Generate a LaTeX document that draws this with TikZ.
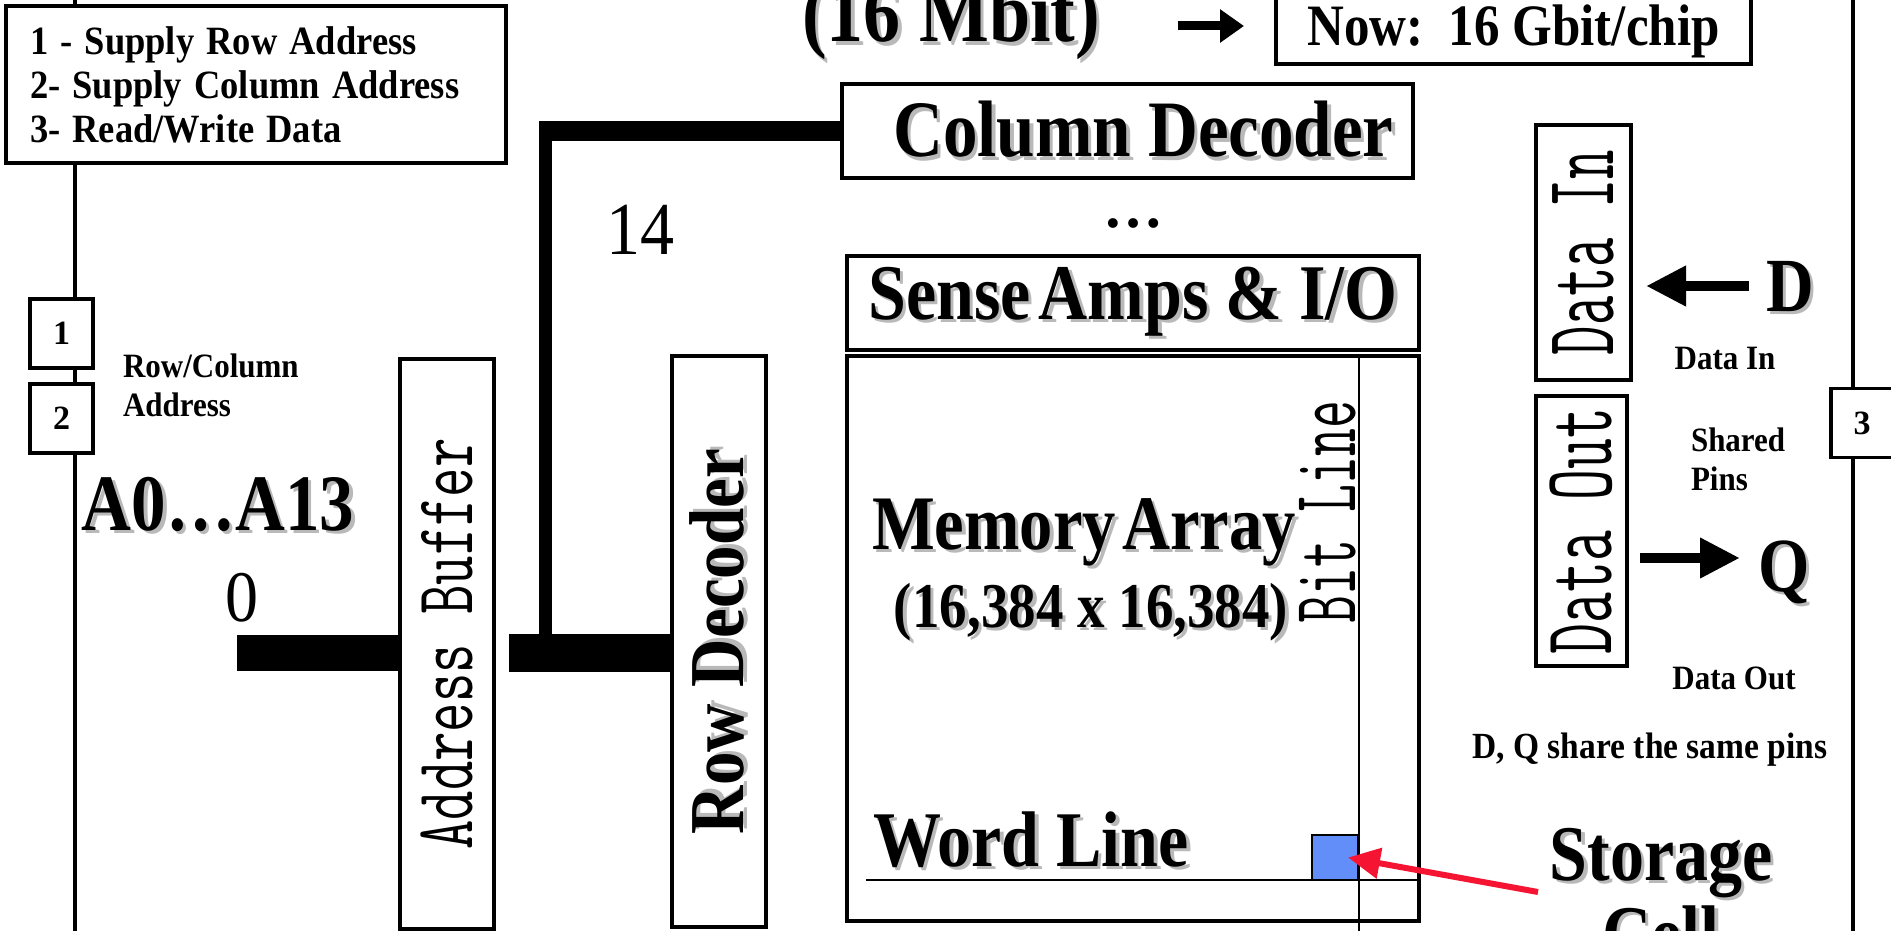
\documentclass[tikz,border=0pt]{standalone}
\usepackage{fontspec}
\usepackage{graphicx}
\setmainfont{Liberation Serif}
\usetikzlibrary{arrows.meta}
\definecolor{cellblue}{RGB}{98,142,250}
\definecolor{arrred}{RGB}{245,20,50}
\definecolor{shadowgray}{RGB}{185,185,185}
\newcommand{\shd}[1]{\scalebox{1}[1.16]{\makebox[0pt][l]{\kern3.5pt\raisebox{-3pt}{\color{shadowgray}#1}}#1}}
\newcommand{\tall}[2]{\scalebox{1}[#1]{#2}}
\newcommand{\vs}[1]{\scalebox{1}[1.1]{#1}}
\begin{document}
\begin{tikzpicture}[x=1pt,y=-1pt,
  every node/.style={inner sep=0pt, outer sep=0pt},
  blk/.style={draw, line width=4.5pt, fill=white},
  pinbox/.style={draw, line width=3.5pt, fill=white, minimum width=63pt, minimum height=69pt, font=\fontsize{34}{40}\selectfont\bfseries},
  big/.style={font=\fontsize{68}{80}\selectfont\bfseries},
  mid/.style={font=\fontsize{31}{39}\selectfont\bfseries},
  mono/.style={font=\fontsize{57}{60}\selectfont\ttfamily},
  bus/.style={line width=36pt},
  thinline/.style={line width=2.5pt},
  bigarrow/.style={line width=10pt, -{Triangle[length=40pt,width=38pt]}},
]
\clip (0,0) rectangle (1891,931);

% vertical bus lines
\coordinate (Ltop) at (75,0); \coordinate (Lbot) at (75,931);
\coordinate (Rtop) at (1853,0); \coordinate (Rbot) at (1853,931);
\draw[line width=4pt] (Ltop) -- (Lbot);
\draw[line width=4pt] (Rtop) -- (Rbot);

% legend
\node[blk, line width=4pt, minimum width=500pt, minimum height=157pt, text width=452pt, align=left,
      font=\fontsize{36.5}{44}\selectfont\bfseries] (legend) at (256,85)
  {\vs{1 - Supply Row Address}\\\vs{2- Supply Column Address}\\\vs{3- Read/Write Data}};

% pins
\node[pinbox] (p1) at (61.5,333.5) {1};
\node[pinbox] (p2) at (61.5,418.5) {2};
\node[pinbox, minimum width=62pt] (p3) at (1862,423) {3};

% left labels
\node[mid, align=left, anchor=west] (rca) at (123,385) {\vs{Row/Column}\\\vs{Address}};
\node[font=\fontsize{69}{80}\selectfont\bfseries] (addr) at (218,506) {\shd{A0…A13}};
\node[font=\fontsize{66}{70}\selectfont] (n0) at (242,598) {\vs{0}};
\node[font=\fontsize{68}{70}\selectfont] (n14) at (640,230) {\vs{14}};

% top
\node[font=\fontsize{74}{80}\selectfont\bfseries, anchor=base] (mbit) at (951,42) {\shd{(16 Mbit)}};
\node[blk, minimum width=475pt, minimum height=66pt, font=\fontsize{51}{56}\selectfont\bfseries] (now) at (1513.5,31) {\tall{1.15}{Now:\ \ 16 Gbit/chip}};
\coordinate (ta1) at (1178,26); \coordinate (ta2) at (1244,26);
\draw[line width=9pt, -{Triangle[length=24pt,width=32pt]}] (ta1) -- (ta2);

% address buffer and row decoder
\node[blk, rotate=90, minimum width=570pt, minimum height=94pt, mono] (ab) at (447,644) {\tall{1.45}{Address Buffer}};
\node[blk, rotate=90, minimum width=571pt, minimum height=94pt, font=\fontsize{67}{80}\selectfont\bfseries] (rd) at (719,641.5) {\shd{Row Decoder}};

% column decoder, sense amps, memory array
\node[blk, minimum width=571pt, minimum height=94pt, font=\fontsize{69}{80}\selectfont\bfseries] (cd) at (1127.5,131) {\hspace*{32pt}\shd{Column Decoder}};
\node[font=\fontsize{60}{60}\selectfont\bfseries] (dots) at (1133,223) {…};
\node[blk, minimum width=572pt, minimum height=94pt, big] (sa) at (1133,303) {\shd{Sense\hspace{0.12em}Amps \& I/O}};
\node[blk, minimum width=572pt, minimum height=565pt] (ma) at (1133,638.5) {};

% buses
\coordinate (b0) at (237,652.5);
\draw[bus] (b0) -- (b0 -| ab.north);
\coordinate (b1) at (509,653);
\draw[line width=38pt] (b1) -- (b1 -| rd.north);
\coordinate (tap) at (545.5,634);
\coordinate (corner) at (545.5,121);
\draw[line width=13pt] (tap) -- (corner);
\coordinate (cw) at (539,131);
\draw[line width=20pt] (cw) -- (cd.west);

% memory array contents
\node[font=\fontsize{66.5}{70}\selectfont\bfseries, anchor=base] (mat) at (1084,549) {\shd{Memory\hspace{0.1em}Array}};
\node[font=\fontsize{55}{60}\selectfont\bfseries, anchor=base] (dim) at (1091,627) {\shd{(16,384 x 16,384)}};
\node[font=\fontsize{54}{60}\selectfont\ttfamily, rotate=90, anchor=south] (blt) at (1356,512) {\tall{1.7}{Bit Line}};
\node[big, anchor=base] (wlt) at (1031,866) {\shd{Word Line}};
\coordinate (blx) at (1359,931);
\draw[thinline] (ma.north -| blx) -- (blx);
\coordinate (wlx) at (866,880);
\draw[thinline] (wlx) -- (wlx -| ma.east);
\node[draw, line width=2.5pt, fill=cellblue, minimum width=46pt, minimum height=45pt] (cell) at (1335,857.5) {};

% storage cell label + arrow
\node[big, align=center, anchor=north] (stc) at (1661,828) {\shd{Storage}\\\shd{Cell}};
\coordinate (sc) at (1538,892);
\draw[arrred, line width=6pt, -{Triangle[length=32pt,width=30pt]}] (sc) -- ([xshift=-10pt]cell.east);

% data in / out
\node[blk, line width=4pt, rotate=90, minimum width=255pt, minimum height=95pt, mono] (din) at (1583.5,252.5) {\tall{1.75}{Data In}};
\node[blk, line width=4pt, rotate=90, minimum width=270pt, minimum height=91pt, mono, font=\fontsize{60}{60}\selectfont\ttfamily] (dout) at (1581.5,531) {\tall{1.65}{Data Out}};
\node[font=\fontsize{66}{70}\selectfont\bfseries, anchor=base] (D) at (1790,311) {\shd{D}};
\node[font=\fontsize{66}{70}\selectfont\bfseries, anchor=base] (Q) at (1784,591) {\shd{Q}};
\coordinate (dtail) at (1749,286); \coordinate (dtip) at (1646,286);
\draw[bigarrow] (dtail) -- (dtip);
\coordinate (qtail) at (1640,558); \coordinate (qtip) at (1740,558);
\draw[bigarrow] (qtail) -- (qtip);
\node[mid] (dinl) at (1725,359) {\vs{Data In}};
\node[mid, align=left, anchor=west] (sp) at (1691,459) {\vs{Shared}\\\vs{Pins}};
\node[mid] (doutl) at (1734,678) {\vs{Data Out}};
\node[font=\fontsize{33.5}{40}\selectfont\bfseries] (share) at (1650,750) {\vs{D, Q share the same pins}};
\end{tikzpicture}
\end{document}
